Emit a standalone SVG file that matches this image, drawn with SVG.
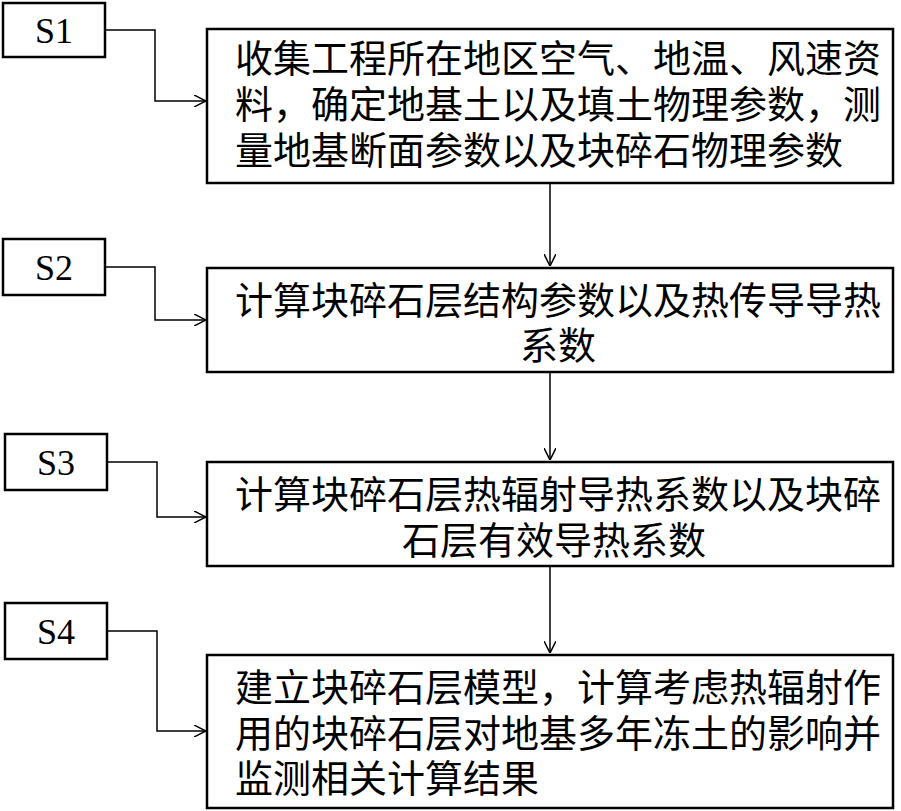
<svg xmlns="http://www.w3.org/2000/svg" width="901" height="811" viewBox="0 0 901 811">
<defs>
<style>
rect{fill:#fff;stroke:#000;stroke-width:2.5}
.c{fill:none;stroke:#000;stroke-width:1.5}
.t{font-family:"Noto Sans CJK SC",sans-serif;font-size:38px;fill:#000}
.s{font-family:"Liberation Serif",serif;font-size:36px;fill:#000;text-anchor:middle}
</style>
<marker id="a" viewBox="0 0 12 12" refX="12" refY="6" markerWidth="12" markerHeight="12" markerUnits="userSpaceOnUse" orient="auto"><path d="M0,0 L12,6 L0,12" fill="none" stroke="#000" stroke-width="1.5"/></marker>
</defs>
<rect width="901" height="811" style="stroke:none"/>
<g id="connectors">
<path class="c" d="M105,30 H155 V101 H206" marker-end="url(#a)"/>
<path class="c" d="M105,267 H155 V320 H206" marker-end="url(#a)"/>
<path class="c" d="M107,462 H157 V517 H206" marker-end="url(#a)"/>
<path class="c" d="M107,631 H157 V731 H206" marker-end="url(#a)"/>
<path class="c" d="M550,183 V266" marker-end="url(#a)"/>
<path class="c" d="M550,372 V460" marker-end="url(#a)"/>
<path class="c" d="M550,566 V653" marker-end="url(#a)"/>
</g>
<g id="S1"><rect x="3" y="3" width="102" height="54"/><text class="s" x="54" y="43">S1</text></g>
<g id="S2"><rect x="3" y="239" width="102" height="56"/><text class="s" x="54" y="280">S2</text></g>
<g id="S3"><rect x="5" y="434" width="102" height="56"/><text class="s" x="56" y="475">S3</text></g>
<g id="S4"><rect x="5" y="603" width="102" height="56"/><text class="s" x="56" y="644">S4</text></g>
<g id="n1"><rect x="207" y="29" width="686" height="154"/>
<text class="t" x="235" y="72">收集工程所在地区空气、地温、风速资</text>
<text class="t" x="235" y="118">料，确定地基土以及填土物理参数，测</text>
<text class="t" x="235" y="164">量地基断面参数以及块碎石物理参数</text></g>
<g id="n2"><rect x="207" y="268" width="686" height="104"/>
<text class="t" x="235" y="314">计算块碎石层结构参数以及热传导导热</text>
<text class="t" x="520" y="359">系数</text></g>
<g id="n3"><rect x="207" y="462" width="686" height="104"/>
<text class="t" x="235" y="508">计算块碎石层热辐射导热系数以及块碎</text>
<text class="t" x="402" y="554">石层有效导热系数</text></g>
<g id="n4"><rect x="207" y="655" width="686" height="153"/>
<text class="t" x="235" y="701">建立块碎石层模型，计算考虑热辐射作</text>
<text class="t" x="235" y="747">用的块碎石层对地基多年冻土的影响并</text>
<text class="t" x="235" y="792">监测相关计算结果</text></g>
</svg>
